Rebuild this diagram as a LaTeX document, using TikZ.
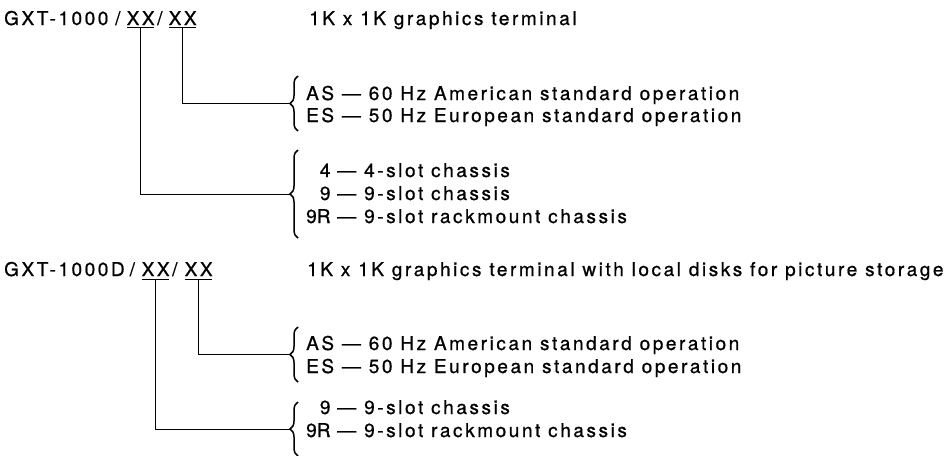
\documentclass[tikz,border=0pt]{standalone}
\usepackage{fontspec}
\setmainfont{TeX Gyre Heros}[LetterSpace=13.5, FakeBold=0.8]
\newfontfamily\codefont{TeX Gyre Heros}[LetterSpace=0, FakeBold=0.8]
\usetikzlibrary{decorations.pathreplacing}
\begin{document}
\begin{tikzpicture}[x=1pt,y=-1pt,
  every node/.style={inner sep=0pt, anchor=base west, font=\fontsize{19}{22}\selectfont},
  code/.style={font=\fontsize{19}{22}\selectfont\codefont},
  lead/.style={line width=0.9pt},
  brc/.style={decorate, decoration={brace, amplitude=8pt, aspect=0.5}, line width=1.5pt}]
\useasboundingbox (0,0) rectangle (949,455);
% ---------- upper block ----------
\node (g1) at (4,25) {GXT-1000};
\node (s11) at (115,25) {/};
\node (x11) at (126.5,25) {XX};
\node (s12) at (157,25) {/};
\node (x12) at (168.5,25) {XX};
\node (d1) at (309,25) {1K x 1K graphics terminal};
\draw[lead] (127,27) -- (154,27);
\draw[lead] (169,27) -- (196,27);
% AS/ES
\node (as1) at (306,100) {AS — 60 Hz American standard operation};
\node (es1) at (306,122) {ES — 50 Hz European standard operation};
\draw[brc] (298,131) -- (298,76);
\coordinate (t1) at (290,103.5);
% chassis
\node[code] (c9r) at (306,223) {9R};
\node[code, anchor=base east] (c4) at (c9r.base east |- 0,177) {4};
\node[code, anchor=base east] (c9) at (c9r.base east |- 0,200) {9};
\node (m4) at (337,177) {—};
\node (m9) at (337,200) {—};
\node (m9r) at (337,223) {—};
\node (dc4) at (364,177) {4-slot chassis};
\node (dc9) at (364,200) {9-slot chassis};
\node (dc9r) at (364,223) {9-slot rackmount chassis};
\draw[brc] (298,238) -- (298,150);
\coordinate (t2) at (290,194.5);
% connectors
\coordinate (v12) at (182,27);
\coordinate (v11) at (140,27);
\draw[lead] (v12) |- (t1);
\draw[lead] (v11) |- (t2);
% ---------- lower block ----------
\node (g2) at (4,276) {GXT-1000D};
\node (s21) at (129.5,276) {/};
\node (x21) at (141.5,276) {XX};
\node (s22) at (172,276) {/};
\node (x22) at (184.5,276) {XX};
\node (d2) at (307,276) {1K x 1K graphics terminal with local disks for picture storage};
\draw[lead] (142,279) -- (169,279);
\draw[lead] (185,279) -- (212,279);
\node (as2) at (306,350) {AS — 60 Hz American standard operation};
\node (es2) at (306,373) {ES — 50 Hz European standard operation};
\draw[brc] (298,382) -- (298,327);
\coordinate (t3) at (290,354.5);
\node[code] (c9rb) at (306,437) {9R};
\node[code, anchor=base east] (c9b) at (c9rb.base east |- 0,414) {9};
\node (m9b) at (337,414) {—};
\node (m9rb) at (337,437) {—};
\node (dc9b) at (364,414) {9-slot chassis};
\node (dc9rb) at (364,437) {9-slot rackmount chassis};
\draw[brc] (298,456) -- (298,402);
\coordinate (t4) at (290,429);
\coordinate (v22) at (198,279);
\coordinate (v21) at (155,279);
\draw[lead] (v22) |- (t3);
\draw[lead] (v21) |- (t4);
\end{tikzpicture}
\end{document}
